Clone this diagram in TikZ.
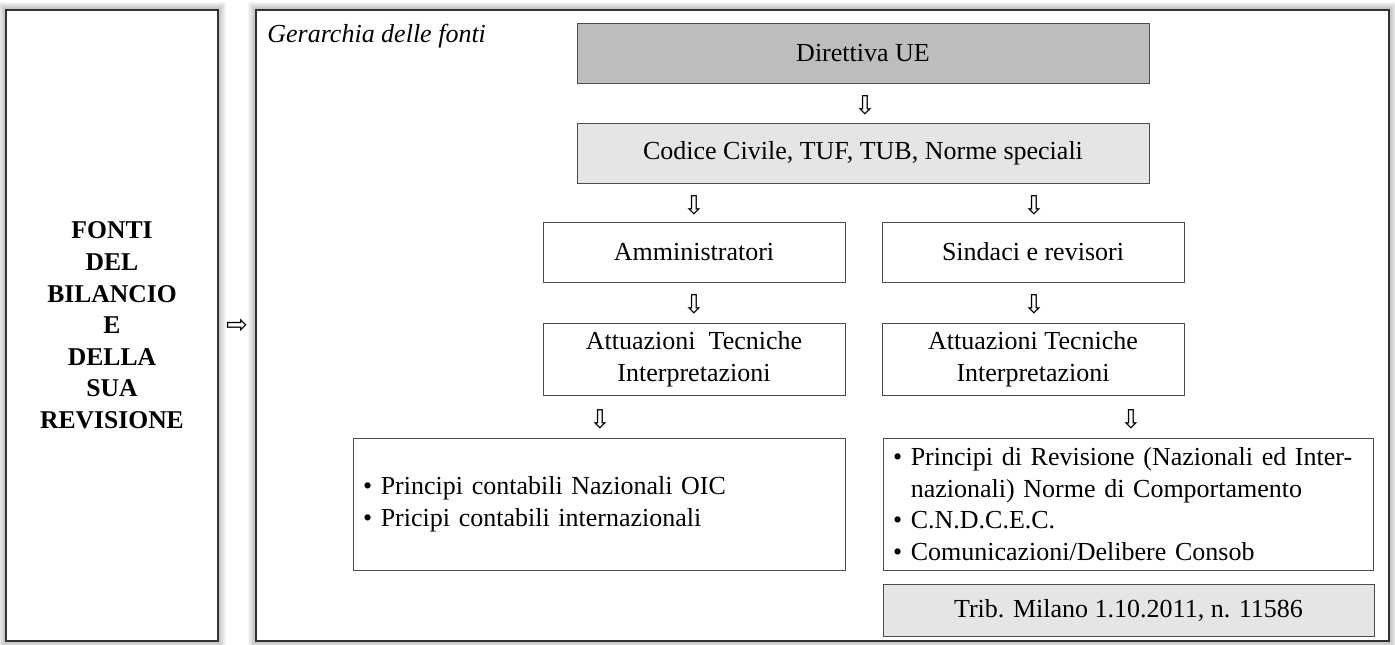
\documentclass[tikz,border=0pt]{standalone}
\usepackage{fontspec}
\setmainfont{Liberation Serif}
\newfontfamily\arrowfont{DejaVu Sans}
\usetikzlibrary{backgrounds}

\begin{document}
\begin{tikzpicture}[
  x=0.5pt, y=-0.5pt,
  frame/.style = {draw=black!80, line width=0.8pt, fill=white},
  box/.style   = {
    draw=black!70, line width=0.5pt,
    align=center, inner sep=0pt,
    font=\fontsize{13}{15.8}\selectfont
  },
  dark/.style  = {fill=black!26},
  light/.style = {fill=black!10},
  arr/.style   = {font=\arrowfont\fontsize{13}{13}\selectfont, inner sep=0pt}
]
\useasboundingbox (0,0) rectangle (1395,644);

% ---- outer frames ----
\node[frame, minimum width=106pt, minimum height=315.5pt,
      align=center, font=\bfseries\fontsize{12.8}{15.8}\selectfont] (fonti) at (112,325.5)
  {FONTI\\DEL\\BILANCIO\\E\\DELLA\\SUA\\REVISIONE};
\node[arr] (verso) at (237,326) {⇨};
\node[frame, minimum width=566.5pt, minimum height=315.5pt] (gerarchia) at (822.5,325.5) {};
\node[anchor=base west, inner sep=0pt, font=\itshape\fontsize{13}{15}\selectfont] (titolo)
  at (267,42) {Gerarchia delle fonti};

% ---- hierarchy ----
\node[box, dark, minimum width=286pt, minimum height=30pt] (dir) at (863,53) {Direttiva UE};
\node[arr] (a1) at (865,105) {⇩};
\node[box, light, minimum width=286pt, minimum height=30pt] (cod) at (863,153)
  {Codice Civile, TUF, TUB, Norme speciali};

\node[arr] (a2) at (694,205) {⇩};
\node[arr] (a3) at (1034,205) {⇩};
\node[box, minimum width=151pt, minimum height=30pt] (amm) at (694,252) {Amministratori};
\node[box, minimum width=151pt, minimum height=30pt] (sin) at (1033,252) {Sindaci e revisori};

\node[arr] (a4) at (694,304) {⇩};
\node[arr] (a5) at (1034,304) {⇩};
\node[box, minimum width=151pt, minimum height=36pt] (attamm) at (694,359)
  {Attuazioni~ Tecniche\\Interpretazioni};
\node[box, minimum width=151pt, minimum height=36pt] (attsin) at (1033,359)
  {Attuazioni Tecniche\\Interpretazioni};

\node[arr] (a6) at (600,419) {⇩};
\node[arr] (a7) at (1131,419) {⇩};
\node[box, minimum width=246pt, minimum height=66pt, text width=236pt, align=left] (oic) at (599,504)
  {\textbullet\ Principi contabili Nazionali OIC\\
   \textbullet\ Pricipi contabili internazionali};
\node[box, minimum width=245pt, minimum height=66pt, text width=235pt, align=left] (rev) at (1128,504)
  {\textbullet\ Principi di Revisione (Nazionali ed Inter-\\
   \phantom{\textbullet\ }nazionali) Norme di Comportamento\\
   \textbullet\ C.N.D.C.E.C.\\
   \textbullet\ Comunicazioni/Delibere Consob};
\node[box, light, minimum width=245.5pt, minimum height=26pt] (trib) at (1128.5,610)
  {Trib. Milano 1.10.2011, n. 11586};

% ---- soft shadow round the frames ----
\begin{scope}[on background layer]
  \foreach \n in {fonti,gerarchia}
    \foreach \d in {1,...,7}
      \fill[black, opacity=0.035] ([shift={(-\d,-\d)}]\n.north west) rectangle ([shift={(\d,\d)}]\n.south east);
\end{scope}

\end{tikzpicture}
\end{document}
